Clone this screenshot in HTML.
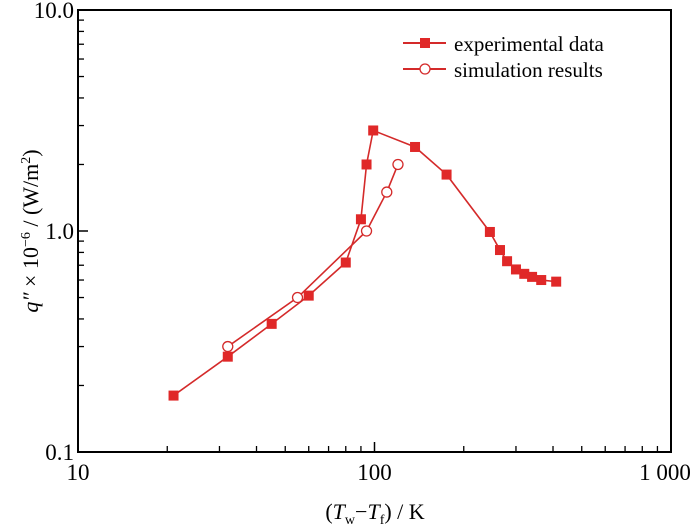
<!DOCTYPE html>
<html><head><meta charset="utf-8"><style>
body{margin:0;background:#fff}
svg{display:block;font-family:"Liberation Serif",serif}
</style></head><body>
<svg id="chart" width="700" height="529">
<rect x="78" y="10" width="593" height="442" fill="none" stroke="#000" stroke-width="2"/>
<g id="ticks"></g>
<g id="series"></g>
<text x="38" y="231" font-size="22" text-anchor="middle" transform="rotate(-90 38 231)"><tspan font-style="italic">q″</tspan> × 10<tspan dy="-8" font-size="14">−6</tspan><tspan dy="8"> / (W/m</tspan><tspan dy="-8" font-size="14">2</tspan><tspan dy="8">)</tspan></text>
<text x="375" y="519" font-size="22" text-anchor="middle">(<tspan font-style="italic">T</tspan><tspan dy="5" font-size="14">w</tspan><tspan dy="-5">−</tspan><tspan font-style="italic">T</tspan><tspan dy="5" font-size="14">f</tspan><tspan dy="-5">) / K</tspan></text>
<g>
<line x1="403" y1="43" x2="446" y2="43" stroke="#d42a2a" stroke-width="2"/>
<rect x="420" y="38" width="10" height="10" fill="#e02828"/>
<text x="454" y="51" font-size="21">experimental data</text>
<line x1="403" y1="69" x2="446" y2="69" stroke="#d42a2a" stroke-width="2"/>
<circle cx="425" cy="69" r="5" fill="#fff" stroke="#d42a2a" stroke-width="1.3"/>
<text x="454" y="77" font-size="21">simulation results</text>
</g>
</svg>
<script>
const expX=[21,32,45,60,80,90,94,99,137,175,245,265,280,300,320,340,365,410];
const expY=[0.18,0.27,0.38,0.51,0.72,1.13,2.0,2.85,2.4,1.8,0.99,0.82,0.73,0.67,0.64,0.62,0.6,0.59];
const simX=[32,55,94,110,120];
const simY=[0.3,0.5,1.0,1.5,2.0];
const xTickVals=[10,100,1000];
const xTickLabels=["10","100","1 000"];
const yTickVals=[0.1,1,10];
const yTickLabels=["0.1","1.0","10.0"];
const L=78,R=671,T=10,B=452;
function sx(v){return L+(Math.log10(v)-1)/2*(R-L);}
function sy(v){return B-(Math.log10(v)+1)/2*(B-T);}
const NS="http://www.w3.org/2000/svg";
function mk(tag,attrs,parent){const e=document.createElementNS(NS,tag);for(const k in attrs)e.setAttribute(k,attrs[k]);parent.appendChild(e);return e;}
const tg=document.getElementById('ticks');
for(let d=10;d<1000;d*=10)for(let m=2;m<=9;m++){
 const x=sx(d*m);const l=mk('line',{x1:x,x2:x,y1:B,y2:B-6,stroke:'#000','stroke-width':1.3},tg);
 
 }
for(let d=0.1;d<9;d*=10)for(let m=2;m<=9;m++){
 const y=sy(d*m);const l=mk('line',{x1:L,x2:L+6,y1:y,y2:y,stroke:'#000','stroke-width':1.3},tg);
 
 }
xTickVals.forEach((v,i)=>{const x=sx(v);
 const l=mk('line',{x1:x,x2:x,y1:B,y2:B-10,stroke:'#000','stroke-width':1.5},tg);
 
 
 const t=mk('text',{x:i==2?x-6:x,y:480,'font-size':23,'text-anchor':'middle'},tg);t.textContent=xTickLabels[i];
 
 });
yTickVals.forEach((v,i)=>{const y=sy(v);
 const l=mk('line',{x1:L,x2:L+10,y1:y,y2:y,stroke:'#000','stroke-width':1.5},tg);
 
 
 const t=mk('text',{x:L-4,y:y+8,'font-size':23,'text-anchor':'end'},tg);t.textContent=yTickLabels[i];
 
 });
const sg=document.getElementById('series');
const p1=mk('polyline',{points:expX.map((x,i)=>sx(x)+','+sy(expY[i])).join(' '),fill:'none',stroke:'#d42a2a','stroke-width':1.6},sg);


const p2=mk('polyline',{points:simX.map((x,i)=>sx(x)+','+sy(simY[i])).join(' '),fill:'none',stroke:'#d42a2a','stroke-width':1.6},sg);


expX.forEach((x,i)=>{const r=mk('rect',{x:sx(x)-5,y:sy(expY[i])-5,width:10,height:10,fill:'#e02828'},sg);
 
 });
simX.forEach((x,i)=>{const c=mk('circle',{cx:sx(x),cy:sy(simY[i]),r:5,fill:'#fff',stroke:'#d42a2a','stroke-width':1.3},sg);
 
 });
</script>
</body></html>
